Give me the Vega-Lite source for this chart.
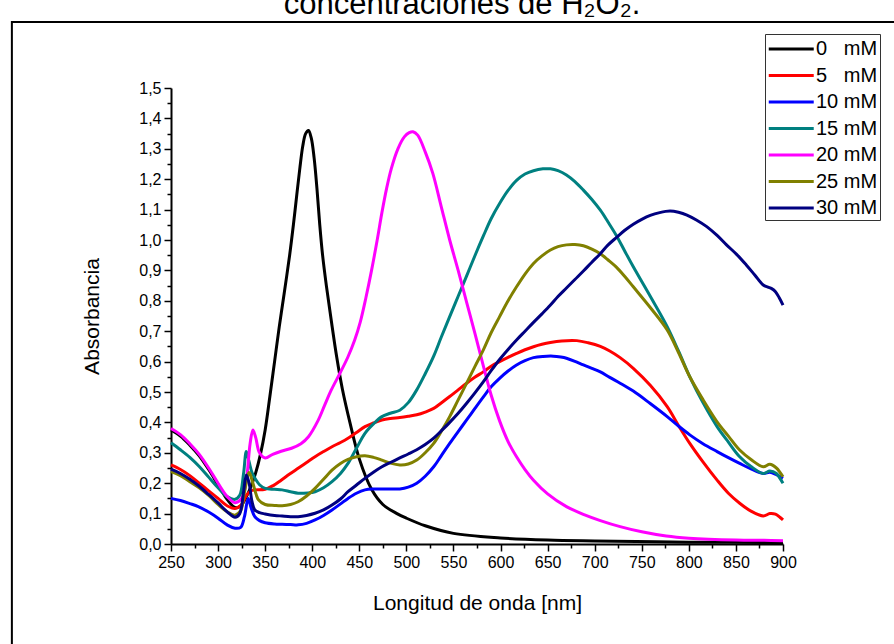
{
  "$schema": "https://vega.github.io/schema/vega-lite/v6.json",
  "width": 612,
  "height": 456,
  "autosize": {"type": "none"},
  "padding": {"left": 171, "top": 88, "right": 111, "bottom": 100},
  "background": "white",
  "config": {
    "view": {"stroke": null},
    "font": "Liberation Sans",
    "axis": {"grid": false, "domainColor": "black", "domainWidth": 2, "tickColor": "black", "tickWidth": 1.5, "labelColor": "black", "titleColor": "black", "labelFont": "Liberation Sans", "titleFont": "Liberation Sans", "labelFontSize": 16, "titleFontSize": 21, "titleFontWeight": "normal"}
  },
  "title": {"text": "concentraciones de H₂O₂.", "fontSize": 31, "fontWeight": "normal", "font": "Liberation Sans", "color": "black", "anchor": "middle", "frame": "group", "dx": -15, "offset": 0},
  "datasets": {
    "frame": [{"w": 81, "w2": 1040, "a": 1.717, "a2": -0.4}]
  },
  "data": {"values": [
    {"c":0,"w":250,"a":0.375},{"c":0,"w":260,"a":0.355},{"c":0,"w":270,"a":0.325},{"c":0,"w":280,"a":0.29},{"c":0,"w":290,"a":0.245},{"c":0,"w":300,"a":0.195},{"c":0,"w":310,"a":0.145},{"c":0,"w":318,"a":0.12},{"c":0,"w":324,"a":0.125},{"c":0,"w":330,"a":0.155},{"c":0,"w":335,"a":0.19},{"c":0,"w":340,"a":0.235},{"c":0,"w":345,"a":0.295},{"c":0,"w":350,"a":0.375},{"c":0,"w":355,"a":0.485},{"c":0,"w":360,"a":0.6},{"c":0,"w":365,"a":0.715},{"c":0,"w":370,"a":0.82},{"c":0,"w":376,"a":0.95},{"c":0,"w":380,"a":1.05},{"c":0,"w":384,"a":1.16},{"c":0,"w":387,"a":1.24},{"c":0,"w":390,"a":1.31},{"c":0,"w":393,"a":1.35},{"c":0,"w":396,"a":1.36},{"c":0,"w":399,"a":1.335},{"c":0,"w":402,"a":1.27},{"c":0,"w":405,"a":1.17},{"c":0,"w":408,"a":1.05},{"c":0,"w":411,"a":0.95},{"c":0,"w":415,"a":0.85},{"c":0,"w":420,"a":0.74},{"c":0,"w":426,"a":0.615},{"c":0,"w":432,"a":0.51},{"c":0,"w":440,"a":0.4},{"c":0,"w":450,"a":0.28},{"c":0,"w":463,"a":0.18},{"c":0,"w":475,"a":0.13},{"c":0,"w":490,"a":0.1},{"c":0,"w":500,"a":0.085},{"c":0,"w":520,"a":0.06},{"c":0,"w":550,"a":0.035},{"c":0,"w":600,"a":0.02},{"c":0,"w":650,"a":0.013},{"c":0,"w":700,"a":0.01},{"c":0,"w":800,"a":0.006},{"c":0,"w":900,"a":0.005},

    {"c":5,"w":250,"a":0.26},{"c":5,"w":260,"a":0.245},{"c":5,"w":270,"a":0.225},{"c":5,"w":280,"a":0.2},{"c":5,"w":290,"a":0.175},{"c":5,"w":300,"a":0.15},{"c":5,"w":310,"a":0.125},{"c":5,"w":318,"a":0.117},{"c":5,"w":325,"a":0.13},{"c":5,"w":330,"a":0.16},{"c":5,"w":335,"a":0.175},{"c":5,"w":339,"a":0.178},{"c":5,"w":350,"a":0.18},{"c":5,"w":359,"a":0.193},{"c":5,"w":367,"a":0.21},{"c":5,"w":376,"a":0.23},{"c":5,"w":385,"a":0.249},{"c":5,"w":394,"a":0.268},{"c":5,"w":403,"a":0.287},{"c":5,"w":412,"a":0.304},{"c":5,"w":421,"a":0.32},{"c":5,"w":430,"a":0.334},{"c":5,"w":438,"a":0.348},{"c":5,"w":447,"a":0.367},{"c":5,"w":456,"a":0.386},{"c":5,"w":465,"a":0.398},{"c":5,"w":474,"a":0.408},{"c":5,"w":483,"a":0.413},{"c":5,"w":493,"a":0.416},{"c":5,"w":502,"a":0.42},{"c":5,"w":511,"a":0.425},{"c":5,"w":520,"a":0.434},{"c":5,"w":529,"a":0.446},{"c":5,"w":537,"a":0.464},{"c":5,"w":546,"a":0.485},{"c":5,"w":555,"a":0.507},{"c":5,"w":564,"a":0.529},{"c":5,"w":573,"a":0.549},{"c":5,"w":582,"a":0.567},{"c":5,"w":590,"a":0.585},{"c":5,"w":599,"a":0.6},{"c":5,"w":608,"a":0.614},{"c":5,"w":617,"a":0.627},{"c":5,"w":626,"a":0.639},{"c":5,"w":635,"a":0.649},{"c":5,"w":644,"a":0.657},{"c":5,"w":653,"a":0.663},{"c":5,"w":665,"a":0.668},{"c":5,"w":681,"a":0.669},{"c":5,"w":693,"a":0.662},{"c":5,"w":706,"a":0.65},{"c":5,"w":716,"a":0.635},{"c":5,"w":727,"a":0.613},{"c":5,"w":741,"a":0.578},{"c":5,"w":759,"a":0.522},{"c":5,"w":777,"a":0.452},{"c":5,"w":789,"a":0.39},{"c":5,"w":801,"a":0.331},{"c":5,"w":815,"a":0.27},{"c":5,"w":830,"a":0.21},{"c":5,"w":842,"a":0.167},{"c":5,"w":854,"a":0.134},{"c":5,"w":866,"a":0.108},{"c":5,"w":879,"a":0.092},{"c":5,"w":886,"a":0.1},{"c":5,"w":892,"a":0.098},{"c":5,"w":897,"a":0.087},{"c":5,"w":900,"a":0.079},

    {"c":10,"w":250,"a":0.15},{"c":10,"w":260,"a":0.143},{"c":10,"w":270,"a":0.133},{"c":10,"w":279,"a":0.123},{"c":10,"w":290,"a":0.105},{"c":10,"w":300,"a":0.085},{"c":10,"w":310,"a":0.062},{"c":10,"w":318,"a":0.052},{"c":10,"w":324,"a":0.055},{"c":10,"w":328,"a":0.09},{"c":10,"w":332,"a":0.15},{"c":10,"w":335,"a":0.12},{"c":10,"w":339,"a":0.09},{"c":10,"w":344,"a":0.077},{"c":10,"w":350,"a":0.07},{"c":10,"w":360,"a":0.066},{"c":10,"w":368,"a":0.065},{"c":10,"w":377,"a":0.064},{"c":10,"w":385,"a":0.063},{"c":10,"w":394,"a":0.068},{"c":10,"w":403,"a":0.079},{"c":10,"w":412,"a":0.094},{"c":10,"w":421,"a":0.112},{"c":10,"w":430,"a":0.132},{"c":10,"w":438,"a":0.15},{"c":10,"w":447,"a":0.167},{"c":10,"w":456,"a":0.178},{"c":10,"w":465,"a":0.181},{"c":10,"w":474,"a":0.181},{"c":10,"w":483,"a":0.181},{"c":10,"w":493,"a":0.181},{"c":10,"w":502,"a":0.187},{"c":10,"w":511,"a":0.2},{"c":10,"w":520,"a":0.223},{"c":10,"w":529,"a":0.254},{"c":10,"w":537,"a":0.29},{"c":10,"w":546,"a":0.331},{"c":10,"w":555,"a":0.37},{"c":10,"w":564,"a":0.408},{"c":10,"w":573,"a":0.447},{"c":10,"w":582,"a":0.485},{"c":10,"w":590,"a":0.517},{"c":10,"w":599,"a":0.545},{"c":10,"w":608,"a":0.569},{"c":10,"w":617,"a":0.589},{"c":10,"w":626,"a":0.603},{"c":10,"w":635,"a":0.613},{"c":10,"w":645,"a":0.617},{"c":10,"w":656,"a":0.618},{"c":10,"w":664,"a":0.615},{"c":10,"w":670,"a":0.611},{"c":10,"w":679,"a":0.601},{"c":10,"w":688,"a":0.589},{"c":10,"w":697,"a":0.578},{"c":10,"w":706,"a":0.566},{"c":10,"w":716,"a":0.548},{"c":10,"w":727,"a":0.529},{"c":10,"w":741,"a":0.503},{"c":10,"w":759,"a":0.462},{"c":10,"w":777,"a":0.419},{"c":10,"w":789,"a":0.388},{"c":10,"w":801,"a":0.359},{"c":10,"w":815,"a":0.33},{"c":10,"w":830,"a":0.304},{"c":10,"w":842,"a":0.284},{"c":10,"w":854,"a":0.265},{"c":10,"w":866,"a":0.247},{"c":10,"w":879,"a":0.232},{"c":10,"w":886,"a":0.236},{"c":10,"w":893,"a":0.228},{"c":10,"w":900,"a":0.216},

    {"c":15,"w":250,"a":0.333},{"c":15,"w":260,"a":0.31},{"c":15,"w":270,"a":0.285},{"c":15,"w":280,"a":0.255},{"c":15,"w":290,"a":0.22},{"c":15,"w":300,"a":0.185},{"c":15,"w":310,"a":0.155},{"c":15,"w":318,"a":0.147},{"c":15,"w":323,"a":0.16},{"c":15,"w":327,"a":0.23},{"c":15,"w":330,"a":0.304},{"c":15,"w":333,"a":0.27},{"c":15,"w":336,"a":0.235},{"c":15,"w":339,"a":0.217},{"c":15,"w":344,"a":0.195},{"c":15,"w":350,"a":0.183},{"c":15,"w":360,"a":0.18},{"c":15,"w":368,"a":0.178},{"c":15,"w":377,"a":0.172},{"c":15,"w":385,"a":0.167},{"c":15,"w":395,"a":0.168},{"c":15,"w":403,"a":0.172},{"c":15,"w":412,"a":0.185},{"c":15,"w":421,"a":0.205},{"c":15,"w":430,"a":0.232},{"c":15,"w":438,"a":0.265},{"c":15,"w":447,"a":0.315},{"c":15,"w":456,"a":0.364},{"c":15,"w":465,"a":0.395},{"c":15,"w":474,"a":0.419},{"c":15,"w":483,"a":0.43},{"c":15,"w":493,"a":0.44},{"c":15,"w":502,"a":0.465},{"c":15,"w":511,"a":0.507},{"c":15,"w":520,"a":0.56},{"c":15,"w":529,"a":0.618},{"c":15,"w":537,"a":0.68},{"c":15,"w":546,"a":0.748},{"c":15,"w":555,"a":0.815},{"c":15,"w":564,"a":0.882},{"c":15,"w":573,"a":0.95},{"c":15,"w":582,"a":1.015},{"c":15,"w":590,"a":1.07},{"c":15,"w":599,"a":1.12},{"c":15,"w":608,"a":1.163},{"c":15,"w":617,"a":1.196},{"c":15,"w":626,"a":1.217},{"c":15,"w":635,"a":1.228},{"c":15,"w":645,"a":1.234},{"c":15,"w":653,"a":1.234},{"c":15,"w":661,"a":1.228},{"c":15,"w":670,"a":1.214},{"c":15,"w":679,"a":1.192},{"c":15,"w":688,"a":1.164},{"c":15,"w":697,"a":1.133},{"c":15,"w":706,"a":1.098},{"c":15,"w":714,"a":1.06},{"c":15,"w":723,"a":1.015},{"c":15,"w":732,"a":0.963},{"c":15,"w":741,"a":0.912},{"c":15,"w":759,"a":0.815},{"c":15,"w":777,"a":0.715},{"c":15,"w":789,"a":0.635},{"c":15,"w":801,"a":0.55},{"c":15,"w":815,"a":0.465},{"c":15,"w":830,"a":0.386},{"c":15,"w":842,"a":0.335},{"c":15,"w":854,"a":0.287},{"c":15,"w":866,"a":0.255},{"c":15,"w":879,"a":0.232},{"c":15,"w":886,"a":0.24},{"c":15,"w":893,"a":0.232},{"c":15,"w":897,"a":0.215},{"c":15,"w":900,"a":0.2},

    {"c":20,"w":250,"a":0.38},{"c":20,"w":260,"a":0.36},{"c":20,"w":270,"a":0.33},{"c":20,"w":280,"a":0.295},{"c":20,"w":290,"a":0.25},{"c":20,"w":300,"a":0.2},{"c":20,"w":310,"a":0.155},{"c":20,"w":318,"a":0.136},{"c":20,"w":325,"a":0.15},{"c":20,"w":330,"a":0.21},{"c":20,"w":334,"a":0.33},{"c":20,"w":337,"a":0.375},{"c":20,"w":340,"a":0.35},{"c":20,"w":344,"a":0.3},{"c":20,"w":350,"a":0.283},{"c":20,"w":358,"a":0.295},{"c":20,"w":367,"a":0.305},{"c":20,"w":378,"a":0.315},{"c":20,"w":388,"a":0.33},{"c":20,"w":396,"a":0.353},{"c":20,"w":406,"a":0.405},{"c":20,"w":413,"a":0.455},{"c":20,"w":420,"a":0.505},{"c":20,"w":430,"a":0.565},{"c":20,"w":438,"a":0.616},{"c":20,"w":445,"a":0.67},{"c":20,"w":451,"a":0.73},{"c":20,"w":457,"a":0.81},{"c":20,"w":463,"a":0.9},{"c":20,"w":469,"a":1.0},{"c":20,"w":474,"a":1.09},{"c":20,"w":479,"a":1.17},{"c":20,"w":484,"a":1.235},{"c":20,"w":491,"a":1.3},{"c":20,"w":498,"a":1.34},{"c":20,"w":503,"a":1.353},{"c":20,"w":507,"a":1.356},{"c":20,"w":512,"a":1.345},{"c":20,"w":520,"a":1.29},{"c":20,"w":528,"a":1.22},{"c":20,"w":537,"a":1.11},{"c":20,"w":546,"a":1.0},{"c":20,"w":555,"a":0.9},{"c":20,"w":564,"a":0.795},{"c":20,"w":573,"a":0.69},{"c":20,"w":582,"a":0.583},{"c":20,"w":590,"a":0.49},{"c":20,"w":599,"a":0.405},{"c":20,"w":608,"a":0.337},{"c":20,"w":617,"a":0.287},{"c":20,"w":626,"a":0.245},{"c":20,"w":635,"a":0.21},{"c":20,"w":650,"a":0.165},{"c":20,"w":670,"a":0.123},{"c":20,"w":690,"a":0.095},{"c":20,"w":706,"a":0.077},{"c":20,"w":727,"a":0.057},{"c":20,"w":750,"a":0.04},{"c":20,"w":776,"a":0.026},{"c":20,"w":800,"a":0.019},{"c":20,"w":850,"a":0.013},{"c":20,"w":880,"a":0.012},{"c":20,"w":900,"a":0.011},

    {"c":25,"w":250,"a":0.238},{"c":25,"w":260,"a":0.225},{"c":25,"w":270,"a":0.205},{"c":25,"w":280,"a":0.185},{"c":25,"w":290,"a":0.16},{"c":25,"w":300,"a":0.13},{"c":25,"w":310,"a":0.105},{"c":25,"w":318,"a":0.095},{"c":25,"w":324,"a":0.11},{"c":25,"w":328,"a":0.17},{"c":25,"w":333,"a":0.235},{"c":25,"w":337,"a":0.2},{"c":25,"w":343,"a":0.145},{"c":25,"w":350,"a":0.13},{"c":25,"w":360,"a":0.127},{"c":25,"w":368,"a":0.126},{"c":25,"w":377,"a":0.13},{"c":25,"w":385,"a":0.139},{"c":25,"w":394,"a":0.158},{"c":25,"w":403,"a":0.183},{"c":25,"w":412,"a":0.213},{"c":25,"w":421,"a":0.243},{"c":25,"w":430,"a":0.265},{"c":25,"w":438,"a":0.278},{"c":25,"w":447,"a":0.287},{"c":25,"w":456,"a":0.29},{"c":25,"w":465,"a":0.285},{"c":25,"w":474,"a":0.276},{"c":25,"w":483,"a":0.266},{"c":25,"w":493,"a":0.26},{"c":25,"w":502,"a":0.263},{"c":25,"w":511,"a":0.276},{"c":25,"w":520,"a":0.3},{"c":25,"w":529,"a":0.331},{"c":25,"w":537,"a":0.37},{"c":25,"w":546,"a":0.419},{"c":25,"w":555,"a":0.474},{"c":25,"w":564,"a":0.529},{"c":25,"w":573,"a":0.585},{"c":25,"w":582,"a":0.64},{"c":25,"w":590,"a":0.695},{"c":25,"w":599,"a":0.748},{"c":25,"w":608,"a":0.8},{"c":25,"w":617,"a":0.846},{"c":25,"w":626,"a":0.888},{"c":25,"w":635,"a":0.923},{"c":25,"w":644,"a":0.948},{"c":25,"w":653,"a":0.967},{"c":25,"w":661,"a":0.978},{"c":25,"w":670,"a":0.984},{"c":25,"w":679,"a":0.985},{"c":25,"w":688,"a":0.981},{"c":25,"w":697,"a":0.97},{"c":25,"w":706,"a":0.955},{"c":25,"w":714,"a":0.935},{"c":25,"w":723,"a":0.911},{"c":25,"w":732,"a":0.88},{"c":25,"w":741,"a":0.846},{"c":25,"w":759,"a":0.778},{"c":25,"w":777,"a":0.704},{"c":25,"w":789,"a":0.63},{"c":25,"w":801,"a":0.55},{"c":25,"w":815,"a":0.475},{"c":25,"w":830,"a":0.402},{"c":25,"w":842,"a":0.355},{"c":25,"w":854,"a":0.309},{"c":25,"w":866,"a":0.278},{"c":25,"w":879,"a":0.254},{"c":25,"w":886,"a":0.262},{"c":25,"w":893,"a":0.25},{"c":25,"w":897,"a":0.235},{"c":25,"w":900,"a":0.221},

    {"c":30,"w":250,"a":0.246},{"c":30,"w":260,"a":0.232},{"c":30,"w":270,"a":0.213},{"c":30,"w":280,"a":0.19},{"c":30,"w":290,"a":0.163},{"c":30,"w":300,"a":0.135},{"c":30,"w":310,"a":0.105},{"c":30,"w":318,"a":0.088},{"c":30,"w":323,"a":0.1},{"c":30,"w":327,"a":0.17},{"c":30,"w":330,"a":0.227},{"c":30,"w":333,"a":0.2},{"c":30,"w":336,"a":0.14},{"c":30,"w":339,"a":0.112},{"c":30,"w":344,"a":0.103},{"c":30,"w":350,"a":0.099},{"c":30,"w":360,"a":0.094},{"c":30,"w":368,"a":0.092},{"c":30,"w":377,"a":0.09},{"c":30,"w":385,"a":0.09},{"c":30,"w":394,"a":0.094},{"c":30,"w":403,"a":0.101},{"c":30,"w":412,"a":0.112},{"c":30,"w":421,"a":0.128},{"c":30,"w":430,"a":0.148},{"c":30,"w":438,"a":0.172},{"c":30,"w":447,"a":0.194},{"c":30,"w":456,"a":0.216},{"c":30,"w":465,"a":0.236},{"c":30,"w":474,"a":0.254},{"c":30,"w":483,"a":0.268},{"c":30,"w":493,"a":0.283},{"c":30,"w":502,"a":0.296},{"c":30,"w":511,"a":0.31},{"c":30,"w":520,"a":0.327},{"c":30,"w":529,"a":0.348},{"c":30,"w":537,"a":0.372},{"c":30,"w":546,"a":0.4},{"c":30,"w":555,"a":0.43},{"c":30,"w":564,"a":0.463},{"c":30,"w":573,"a":0.498},{"c":30,"w":582,"a":0.535},{"c":30,"w":590,"a":0.57},{"c":30,"w":599,"a":0.607},{"c":30,"w":608,"a":0.64},{"c":30,"w":617,"a":0.671},{"c":30,"w":626,"a":0.7},{"c":30,"w":635,"a":0.729},{"c":30,"w":644,"a":0.757},{"c":30,"w":653,"a":0.786},{"c":30,"w":661,"a":0.814},{"c":30,"w":670,"a":0.842},{"c":30,"w":679,"a":0.87},{"c":30,"w":688,"a":0.898},{"c":30,"w":697,"a":0.927},{"c":30,"w":706,"a":0.955},{"c":30,"w":714,"a":0.983},{"c":30,"w":723,"a":1.008},{"c":30,"w":732,"a":1.032},{"c":30,"w":741,"a":1.052},{"c":30,"w":750,"a":1.068},{"c":30,"w":759,"a":1.081},{"c":30,"w":769,"a":1.09},{"c":30,"w":780,"a":1.095},{"c":30,"w":789,"a":1.091},{"c":30,"w":798,"a":1.082},{"c":30,"w":808,"a":1.066},{"c":30,"w":819,"a":1.044},{"c":30,"w":830,"a":1.015},{"c":30,"w":840,"a":0.984},{"c":30,"w":851,"a":0.952},{"c":30,"w":861,"a":0.918},{"c":30,"w":870,"a":0.885},{"c":30,"w":879,"a":0.852},{"c":30,"w":884,"a":0.845},{"c":30,"w":888,"a":0.84},{"c":30,"w":892,"a":0.83},{"c":30,"w":896,"a":0.81},{"c":30,"w":900,"a":0.786}
  ]},
  "encoding": {
    "x": {"field": "w", "type": "quantitative",
      "scale": {"domain": [250, 900], "nice": false, "zero": false},
      "axis": {"title": "Longitud de onda [nm]", "values": [250,275,300,325,350,375,400,425,450,475,500,525,550,575,600,625,650,675,700,725,750,775,800,825,850,875,900],
        "labelExpr": "datum.value % 50 == 0 ? datum.label : ''", "labelOverlap": false, "labelFlush": false,
        "tickSize": {"condition": {"test": "datum.value % 50 != 0", "value": 4}, "value": 7},
        "labelPadding": 3, "titlePadding": 22}},
    "y": {"field": "a", "type": "quantitative",
      "scale": {"domain": [0, 1.5], "nice": false},
      "axis": {"title": "Absorbancia", "values": [0,0.05,0.1,0.15,0.2,0.25,0.3,0.35,0.4,0.45,0.5,0.55,0.6,0.65,0.7,0.75,0.8,0.85,0.9,0.95,1.0,1.05,1.1,1.15,1.2,1.25,1.3,1.35,1.4,1.45,1.5],
        "labelExpr": "round(datum.value*100) % 10 == 0 ? replace(format(datum.value, '.1f'), '.', ',') : ''", "labelOverlap": false, "labelFlush": false,
        "tickSize": {"condition": {"test": "round(datum.value*100) % 10 != 0", "value": 4}, "value": 7},
        "labelPadding": 3, "titlePadding": 36}}
  },
  "layer": [
    {
      "mark": {"type": "line", "strokeWidth": 3, "interpolate": "catmull-rom", "clip": false},
      "encoding": {
        "color": {"field": "c", "type": "nominal",
          "scale": {"domain": [0, 5, 10, 15, 20, 25, 30], "range": ["#000000", "#ff0000", "#0000ff", "#008080", "#ff00ff", "#808000", "#000080"]},
          "legend": {"title": null, "orient": "none", "legendX": 594, "legendY": -54,
            "symbolType": "M-1,0L3,0", "symbolSize": 506, "symbolStrokeWidth": 3,
            "labelFont": "Liberation Sans", "labelFontSize": 20, "labelColor": "black",
            "labelExpr": "length(datum.label) == 1 ? datum.label + '\u00a0\u00a0\u00a0mM' : datum.label + ' mM'",
            "strokeColor": "#333333", "padding": 2, "rowPadding": 3.5, "labelOffset": 23}}
      }
    },
    {
      "data": {"name": "frame"},
      "mark": {"type": "rect", "fill": null, "fillOpacity": 0, "stroke": "black", "strokeWidth": 2, "clip": false},
      "encoding": {
        "x2": {"field": "w2"},
        "y2": {"field": "a2"}
      }
    }
  ]
}
